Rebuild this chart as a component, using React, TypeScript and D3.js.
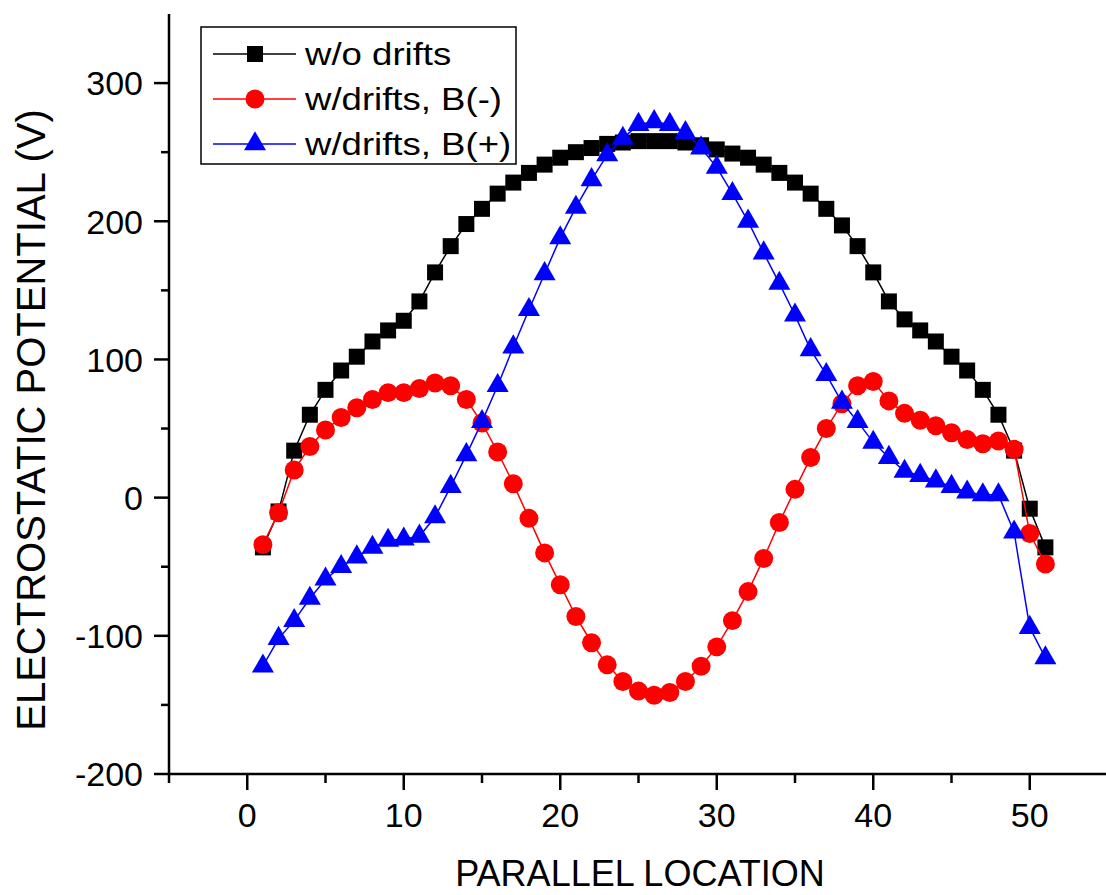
import React from 'react'
import * as d3 from 'd3'

// parallel location index, 1..51
const locations = d3.range(1, 52)

const noDrifts = [
  -36, -10, 34, 60, 78, 92, 102, 113, 121, 128,
  142, 163, 182, 198, 209, 220, 228, 235, 241, 246,
  250, 253, 256, 257, 258, 258, 258, 257, 255, 252,
  249, 246, 241, 235, 228, 220, 209, 197, 182, 163,
  142, 129, 121, 113, 102, 92, 78, 60, 34, -8,
  -36,
]

const driftsBMinus = [
  -34, -11, 20, 37, 49, 58, 65, 71, 76, 76,
  79, 83, 81, 71, 54, 33, 10, -15, -40, -63,
  -86, -105, -121, -133, -140, -143, -141, -133, -122, -108,
  -89, -68, -44, -18, 6, 29, 50, 68, 81, 84,
  70, 61, 56, 52, 47, 42, 39, 41, 35, -26,
  -48,
]

const driftsBPlus = [
  -122, -102, -89, -73, -59, -50, -43, -36, -31, -30,
  -28, -14, 8, 31, 55, 81, 109, 136, 162, 188,
  210, 230, 248, 260, 270, 272, 270, 264, 253, 239,
  220, 200, 177, 155, 132, 107, 89, 69, 55, 40,
  29, 19, 16, 12, 8, 4, 2, 2, -25, -94,
  -116,
]

const seriesNames = ['w/o drifts', 'w/drifts, B(-)', 'w/drifts, B(+)']
const seriesColors = ['#000000', '#ff0000', '#0000ff']
const xTicks = [0, 10, 20, 30, 40, 50]
const xMinorTicks = [-5, 5, 15, 25, 35, 45]
const yTicks = [-200, -100, 0, 100, 200, 300]
const yMinorTicks = [-150, -50, 50, 150, 250]

const W = 1106
const H = 895
const font = "Arial, 'Liberation Sans', sans-serif"

const xScale = d3.scaleLinear().domain([-5, 55]).range([169, 1108])
const yScale = d3.scaleLinear().domain([-200, 350]).range([774, 14])

const line = d3.line<number>()
  .x((d, i) => xScale(locations[i]))
  .y(d => yScale(d))

const symbols = [
  d3.symbol().type(d3.symbolSquare).size(256)(),
  d3.symbol().type(d3.symbolCircle).size(283)(),
  d3.symbol().type(d3.symbolTriangle).size(210)(),
]

const allSeries = [noDrifts, driftsBMinus, driftsBPlus]

export default function App() {
  const axisW = 2.5
  const x0 = xScale.range()[0]
  const y0 = yScale.range()[0]
  return (
    <svg width={W} height={H} style={{ position: 'absolute', left: 0, top: 0, background: '#fff' }}>
      {/* series */}
      {allSeries.map((vals, s) => (
        <g key={seriesNames[s]}>
          <path d={line(vals) || ''} fill="none" stroke={seriesColors[s]} strokeWidth={1.5} />
          {vals.map((v, i) => (
            <path key={i} d={symbols[s] || ''} fill={seriesColors[s]}
              transform={`translate(${xScale(locations[i])},${yScale(v)})`} />
          ))}
        </g>
      ))}

      {/* y axis */}
      <line x1={x0} x2={x0} y1={yScale.range()[1]} y2={y0 + 1} stroke="#000" strokeWidth={axisW} />
      {yTicks.map(t => (
        <g key={t}>
          <line x1={x0 - 15} x2={x0} y1={yScale(t)} y2={yScale(t)} stroke="#000" strokeWidth={axisW} />
          <text x={143} y={yScale(t)} dy="0.36em" textAnchor="end" fontFamily={font} fontSize={34}>{t}</text>
        </g>
      ))}
      {yMinorTicks.map(t => (
        <line key={t} x1={x0 - 8} x2={x0} y1={yScale(t)} y2={yScale(t)} stroke="#000" strokeWidth={axisW} />
      ))}

      {/* x axis */}
      <line x1={x0} x2={W} y1={y0} y2={y0} stroke="#000" strokeWidth={axisW} />
      {xTicks.map(t => (
        <g key={t}>
          <line x1={xScale(t)} x2={xScale(t)} y1={y0} y2={y0 + 16} stroke="#000" strokeWidth={axisW} />
          <text x={xScale(t)} y={827} textAnchor="middle" fontFamily={font} fontSize={34}>{t}</text>
        </g>
      ))}
      {xMinorTicks.map(t => (
        <line key={t} x1={xScale(t)} x2={xScale(t)} y1={y0} y2={y0 + 9} stroke="#000" strokeWidth={axisW} />
      ))}

      {/* axis titles */}
      <text transform="translate(45,420) rotate(-90)" textAnchor="middle" fontFamily={font} fontSize={40}>
        ELECTROSTATIC POTENTIAL (V)
      </text>
      <text x={640} y={886} textAnchor="middle" fontFamily={font} fontSize={36}>PARALLEL LOCATION</text>

      {/* legend */}
      <g>
        <rect x={201} y={27} width={315} height={137} fill="#fff" stroke="#000" strokeWidth={1.5} />
        {seriesNames.map((name, s) => {
          const cy = 54 + s * 45
          return (
            <g key={name}>
              <line x1={213} x2={296} y1={cy} y2={cy} stroke={seriesColors[s]} strokeWidth={1.5} />
              <path d={symbols[s] || ''} fill={seriesColors[s]} transform={`translate(255,${cy})`} />
              <text transform={`translate(305,${cy + 11}) scale(1.18,1)`} fontFamily={font} fontSize={31}>{name}</text>
            </g>
          )
        })}
      </g>
    </svg>
  )
}
